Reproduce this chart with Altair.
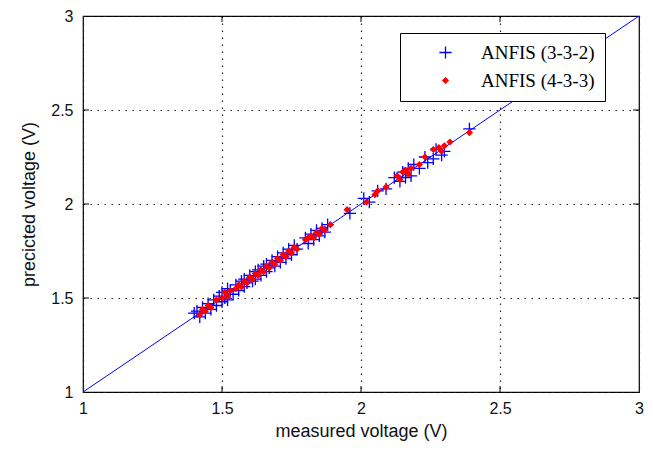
import altair as alt
import pandas as pd

# ANFIS (3-3-2): measured vs predicted
bx = [1.40,1.41,1.42,1.43,1.44,1.45,1.46,1.47,1.48,1.49,1.50,1.50,1.51,1.52,1.52,1.53,1.54,1.55,1.56,1.57,
      1.58,1.58,1.59,1.60,1.61,1.62,1.62,1.63,1.64,1.65,1.66,1.66,1.67,1.68,1.69,1.70,1.71,1.72,1.73,1.74,
      1.75,1.76,1.77,1.80,1.81,1.82,1.83,1.84,1.85,1.86,1.87,1.88,1.96,2.01,2.03,2.06,2.09,2.12,2.14,2.15,
      2.16,2.17,2.18,2.19,2.21,2.23,2.24,2.26,2.27,2.29,2.30,2.39]
by = [1.42,1.43,1.40,1.45,1.42,1.47,1.44,1.49,1.46,1.51,1.48,1.53,1.50,1.55,1.49,1.54,1.52,1.57,1.54,1.59,
      1.56,1.60,1.58,1.62,1.59,1.64,1.60,1.65,1.62,1.67,1.64,1.68,1.66,1.70,1.67,1.72,1.69,1.74,1.71,1.76,
      1.73,1.78,1.76,1.82,1.79,1.84,1.81,1.86,1.83,1.87,1.85,1.89,1.95,2.03,2.01,2.07,2.08,2.14,2.12,2.17,
      2.14,2.19,2.15,2.21,2.19,2.25,2.22,2.24,2.29,2.26,2.28,2.40]

# ANFIS (4-3-3): measured vs predicted
rx = [1.42,1.43,1.44,1.45,1.46,1.48,1.50,1.51,1.52,1.53,1.55,1.56,1.57,1.58,1.59,1.60,1.61,1.62,1.63,1.64,
      1.65,1.66,1.67,1.68,1.69,1.70,1.71,1.72,1.73,1.74,1.75,1.76,1.77,1.80,1.81,1.82,1.83,1.84,1.85,1.86,
      1.87,1.89,1.95,2.02,2.05,2.06,2.09,2.13,2.14,2.15,2.16,2.17,2.18,2.21,2.23,2.26,2.28,2.29,2.30,2.32,2.39]
ry = [1.41,1.44,1.43,1.46,1.45,1.49,1.50,1.53,1.51,1.54,1.55,1.57,1.56,1.59,1.58,1.61,1.60,1.63,1.62,1.65,
      1.64,1.67,1.66,1.69,1.68,1.71,1.70,1.73,1.72,1.75,1.74,1.77,1.76,1.81,1.82,1.83,1.82,1.85,1.84,1.87,
      1.86,1.89,1.97,2.01,2.05,2.07,2.09,2.15,2.13,2.17,2.18,2.16,2.19,2.21,2.25,2.29,2.30,2.28,2.31,2.33,2.38]

series_names = ["ANFIS (3-3-2)", "ANFIS (4-3-3)"]
line_x = [1, 3]
line_y = [1, 3]
tick_vals = [1, 1.5, 2, 2.5, 3]
inner_ticks = [1.5, 2, 2.5]

W, H = 556, 376

pts = pd.DataFrame({
    "measured": bx + rx,
    "predicted": by + ry,
    "series": [series_names[0]] * len(bx) + [series_names[1]] * len(rx),
})
line_df = pd.DataFrame({"measured": line_x, "predicted": line_y})
tick_df = pd.DataFrame({"v": inner_ticks})

xs = alt.Scale(domain=[1, 3], nice=False, zero=False)
ys = alt.Scale(domain=[1, 3], nice=False, zero=False)

font = "Liberation Sans"
common = dict(values=tick_vals, format="~g", grid=True, ticks=False, domain=False,
              labelFont=font, labelFontSize=16, labelColor="#111",
              titleFont=font, titleFontSize=18, titleFontWeight="normal", titleColor="#111",
              gridColor="#222", gridDash=[1.5, 5.5], gridWidth=1.2, labelFlush=False)
x_axis = alt.Axis(title="measured voltage (V)", labelPadding=8, titlePadding=6, **common)
y_axis = alt.Axis(title="precicted voltage (V)", labelPadding=10, titlePadding=12, **common)

diag = alt.Chart(line_df).mark_line(color="#0000ff", strokeWidth=1).encode(
    x=alt.X("measured:Q", scale=xs, axis=x_axis),
    y=alt.Y("predicted:Q", scale=ys, axis=y_axis),
)

plus_path = "M-1,0L1,0M0,-1L0,1"
leg = dict(orient="none", legendX=317, legendY=17, title=None)
points = alt.Chart(pts).mark_point(strokeWidth=1.3, opacity=1).encode(
    x=alt.X("measured:Q", scale=xs),
    y=alt.Y("predicted:Q", scale=ys),
    shape=alt.Shape("series:N", scale=alt.Scale(domain=series_names, range=[plus_path, "diamond"]),
                    legend=alt.Legend(strokeColor="black", fillColor="white", padding=10,
                                      labelFont="Liberation Serif", labelFontSize=19, labelColor="black",
                                      rowPadding=8, labelOffset=26, symbolOffset=26, labelLimit=400,
                                      symbolStrokeWidth=1.3, **leg)),
    stroke=alt.Stroke("series:N", scale=alt.Scale(domain=series_names, range=["#0000ff", "#ff0000"]),
                      legend=alt.Legend(**leg)),
    fill=alt.Fill("series:N", scale=alt.Scale(domain=series_names, range=["transparent", "#ff0000"]),
                  legend=alt.Legend(**leg)),
    size=alt.Size("series:N", scale=alt.Scale(domain=series_names, range=[150, 28]),
                  legend=alt.Legend(**leg)),
)

bottom_ticks = alt.Chart(tick_df).mark_rule(color="black", strokeWidth=1).encode(
    x=alt.X("v:Q", scale=xs), y=alt.value(H), y2=alt.value(H - 6))
top_ticks = alt.Chart(tick_df).mark_rule(color="black", strokeWidth=1).encode(
    x=alt.X("v:Q", scale=xs), y=alt.value(0), y2=alt.value(6))
left_ticks = alt.Chart(tick_df).mark_rule(color="black", strokeWidth=1).encode(
    y=alt.Y("v:Q", scale=ys), x=alt.value(0), x2=alt.value(6))
right_ticks = alt.Chart(tick_df).mark_rule(color="black", strokeWidth=1).encode(
    y=alt.Y("v:Q", scale=ys), x=alt.value(W), x2=alt.value(W - 6))

chart = alt.layer(diag, bottom_ticks, top_ticks, left_ticks, right_ticks, points).properties(
    width=W, height=H,
    autosize=alt.AutoSizeParams(type="none"),
    padding={"left": 75, "top": 8, "right": 6, "bottom": 53},
    background="white",
).configure_view(stroke="black", strokeWidth=1.2)

chart.save("out.html", embed_options={"renderer": "svg", "actions": False})
